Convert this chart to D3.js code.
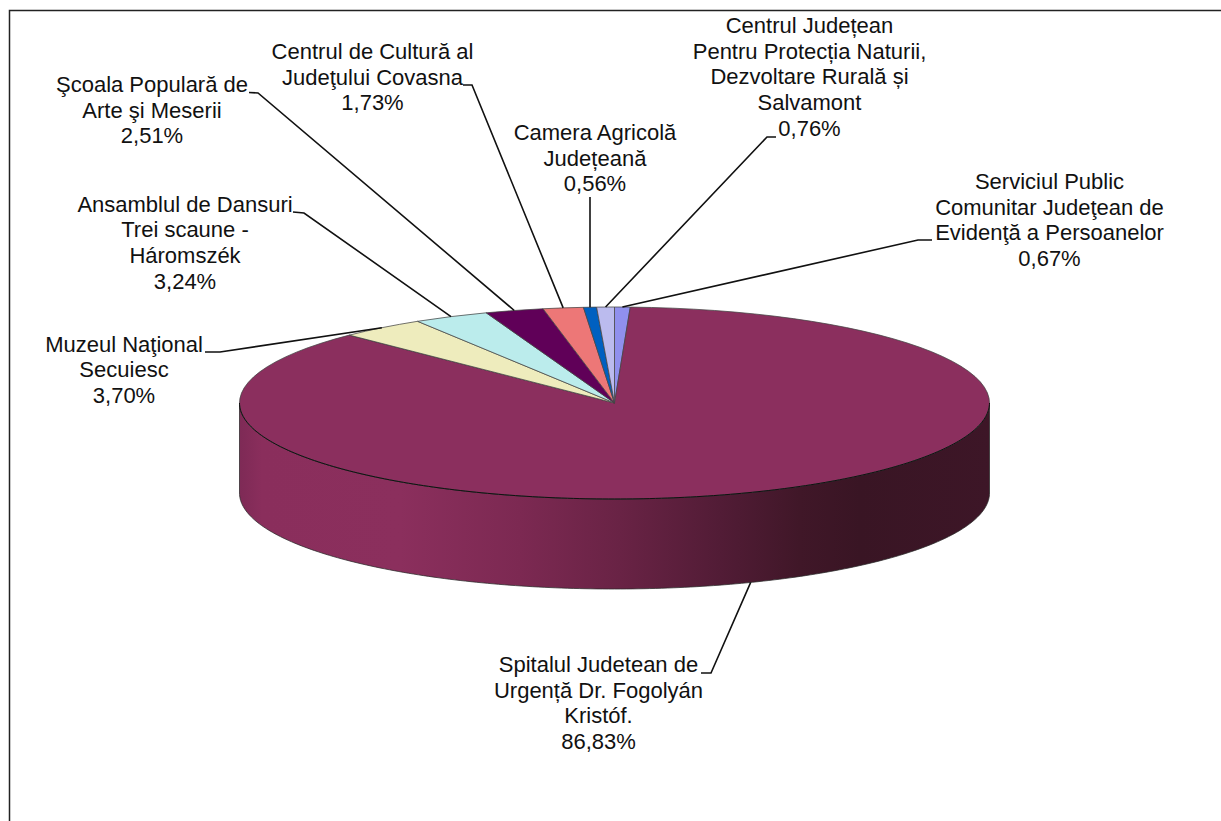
<!DOCTYPE html>
<html lang="ro">

<head>
    <meta charset="UTF-8" />
    <title>Pie 3D</title>
    <script src="https://d3js.org/d3.v7.min.js"></script>
    <style>
        html,
        body {
            margin: 0;
            padding: 0;
            background: #fff;
            overflow: hidden;
        }

        svg {
            display: block;
        }

        text {
            font-family: "Liberation Sans", Arial, sans-serif;
            font-size: 22px;
            fill: #111;
        }
    </style>
</head>

<body>
    <svg width="1221" height="821"></svg>

    <script>
        // clockwise from 12 o'clock
        const categories = [
            ["Serviciul Public", "Comunitar Judeţean de", "Evidenţă a Persoanelor"],
            ["Spitalul Judetean de", "Urgență Dr. Fogolyán", "Kristóf."],
            ["Muzeul Naţional", "Secuiesc"],
            ["Ansamblul de Dansuri", "Trei scaune -", "Háromszék"],
            ["Şcoala Populară de", "Arte şi Meserii"],
            ["Centrul de Cultură al", "Judeţului Covasna"],
            ["Camera Agricolă", "Județeană"],
            ["Centrul Județean", "Pentru Protecția Naturii,", "Dezvoltare Rurală și", "Salvamont"]
        ];
        const values = [0.67, 86.83, 3.70, 3.24, 2.51, 1.73, 0.56, 0.76];
        const colors = ["#9090ee", "#8b2f5e", "#eeecbd", "#bbecec", "#600058", "#ed7777", "#0060c0", "#bbbbee"];

        // label placement: text centre x, first baseline y, leader elbow and leader tail
        const labelX = [1049.5, 598.5, 124, 185, 152, 372.5, 595, 809.5];
        const labelY = [189, 672, 351.5, 211.5, 92, 59, 140, 33];
        const elbows = [[918, 240], [711, 673], [220, 352], [304, 213], [258, 93], [472, 85], [590, 197], [767, 137]];
        const tails = [[932, 240], [701, 673], [205, 352], [293, 212], [249, 92.5], [463, 85], [590, 197], [776, 137]];

        const svg = d3.select("svg");
        const cx = 614.5, cy = 403, rx = 375, ry = 96, depth = 90;
        const lineHeight = 25.7;

        const pie = d3.pie().sort(null).value(d => d);
        const arcs = pie(values);
        const arc = d3.arc().innerRadius(0).outerRadius(rx);

        // point on the tilted rim for a pie angle
        const rim = a => [cx + rx * Math.sin(a), cy - ry * Math.cos(a)];

        const wallColor = d3.scaleLinear()
            .domain([240, 262, 400, 520, 620, 720, 800, 860, 989])
            .range(["#7e2a56", "#8a2e5c", "#8b2f5d", "#7c2952", "#692345", "#521c36", "#401728", "#391524", "#3d1627"]);

        const defs = svg.append("defs");
        const grad = defs.append("linearGradient")
            .attr("id", "wall")
            .attr("gradientUnits", "userSpaceOnUse")
            .attr("x1", cx - rx).attr("x2", cx + rx).attr("y1", 0).attr("y2", 0);
        wallColor.domain().forEach(x => {
            grad.append("stop")
                .attr("offset", (x - (cx - rx)) / (2 * rx))
                .attr("stop-color", wallColor(x));
        });

        // chart frame, only top and left are in the picture
        svg.append("path")
            .attr("d", "M9.5,821V10.5H1221")
            .attr("fill", "none")
            .attr("stroke", "#222")
            .attr("stroke-width", 1.5);

        // side wall: only the part of each slice facing the viewer
        const wallArea = d3.area()
            .x(a => rim(a)[0])
            .y0(a => rim(a)[1])
            .y1(a => rim(a)[1] + depth);
        const frontLine = d3.line()
            .x(a => rim(a)[0])
            .y(a => rim(a)[1]);
        const frontAngles = d => {
            const a0 = Math.max(d.startAngle, Math.PI / 2);
            const a1 = Math.min(d.endAngle, 3 * Math.PI / 2);
            return d3.range(0, 201).map(i => a0 + (a1 - a0) * i / 200);
        };
        const frontArcs = arcs.filter(d => d.endAngle > Math.PI / 2 && d.startAngle < 3 * Math.PI / 2);

        svg.append("g")
            .selectAll("path")
            .data(frontArcs)
            .join("path")
            .attr("d", d => wallArea(frontAngles(d)))
            .attr("fill", "url(#wall)")
            .attr("stroke", "#2a2a2a")
            .attr("stroke-width", 0.75);

        // top face: a flat pie squashed into the ellipse
        svg.append("g")
            .attr("transform", `translate(${cx},${cy}) scale(1,${ry / rx})`)
            .selectAll("path")
            .data(arcs)
            .join("path")
            .attr("d", arc)
            .attr("fill", (d, i) => colors[i])
            .attr("stroke", "#444")
            .attr("stroke-width", 0.75)
            .attr("vector-effect", "non-scaling-stroke");

        // the near rim reads darker than the rest of the outline
        svg.append("g")
            .selectAll("path")
            .data(frontArcs)
            .join("path")
            .attr("d", d => frontLine(frontAngles(d)))
            .attr("fill", "none")
            .attr("stroke", "#111")
            .attr("stroke-width", 1);

        // leader lines from the slice middle to the label
        svg.append("g")
            .selectAll("path")
            .data(arcs)
            .join("path")
            .attr("d", (d, i) => {
                const mid = (d.startAngle + d.endAngle) / 2;
                const p = rim(mid);
                if (Math.cos(mid) < 0) p[1] += depth;
                return d3.line()([p, elbows[i], tails[i]]);
            })
            .attr("fill", "none")
            .attr("stroke", "#111")
            .attr("stroke-width", 1.6);

        // labels
        const fmt = v => v.toFixed(2).replace(".", ",") + "%";
        const labels = svg.append("g")
            .selectAll("text")
            .data(arcs)
            .join("text")
            .attr("text-anchor", "middle")
            .attr("x", (d, i) => labelX[i])
            .attr("y", (d, i) => labelY[i]);

        labels.selectAll("tspan")
            .data((d, i) => categories[i].concat(fmt(values[i])).map(t => ({ t, x: labelX[i] })))
            .join("tspan")
            .attr("x", d => d.x)
            .attr("dy", (d, i) => i ? lineHeight : 0)
            .text(d => d.t);
    </script>
</body>

</html>
